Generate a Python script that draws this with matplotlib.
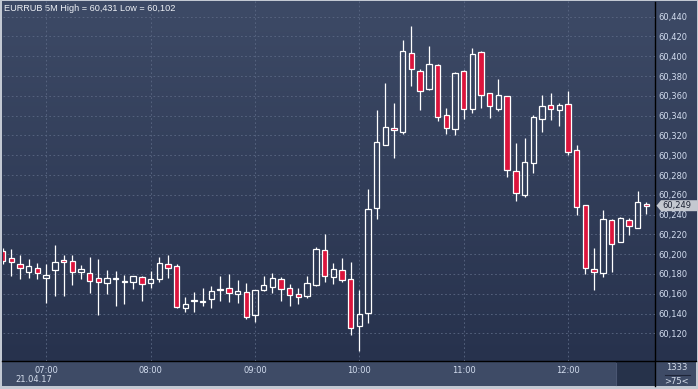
import numpy as np
import matplotlib
matplotlib.use("Agg")
import matplotlib.pyplot as plt
from matplotlib.patches import Rectangle, Polygon
import pandas as pd

plt.rcParams['font.family'] = ['DejaVu Sans']

# ---------------- data ----------------
opens = [60.203, 60.196, 60.190, 60.182, 60.186, 60.176, 60.184, 60.194, 60.193, 60.182,
         60.181, 60.176, 60.171, 60.1748, 60.172, 60.172, 60.177, 60.171, 60.175, 60.190,
         60.188, 60.146, 60.153, 60.1515, 60.155, 60.1635, 60.166, 60.160, 60.162, 60.139,
         60.164, 60.167, 60.175, 60.166, 60.160, 60.158, 60.169, 60.204, 60.177, 60.184,
         60.175, 60.127, 60.141, 60.247, 60.310, 60.327, 60.323, 60.403, 60.385, 60.367,
         60.391, 60.341, 60.326, 60.385, 60.347, 60.404, 60.363, 60.347, 60.360, 60.284,
         60.260, 60.292, 60.337, 60.351, 60.346, 60.352, 60.305, 60.250, 60.185, 60.181,
         60.235, 60.212, 60.235, 60.226, 60.251]
highs = [60.206, 60.205, 60.199, 60.195, 60.191, 60.190, 60.209, 60.199, 60.199, 60.189,
         60.197, 60.195, 60.184, 60.183, 60.179, 60.178, 60.178, 60.183, 60.197, 60.199,
         60.190, 60.157, 60.162, 60.166, 60.168, 60.178, 60.180, 60.174, 60.171, 60.164,
         60.178, 60.181, 60.177, 60.170, 60.166, 60.178, 60.207, 60.220, 60.191, 60.196,
         60.192, 60.164, 60.266, 60.346, 60.373, 60.353, 60.416, 60.431, 60.387, 60.410,
         60.392, 60.348, 60.384, 60.386, 60.408, 60.405, 60.363, 60.377, 60.360, 60.312,
         60.317, 60.341, 60.361, 60.363, 60.353, 60.365, 60.310, 60.250, 60.206, 60.245,
         60.236, 60.238, 60.237, 60.264, 60.253]
lows = [60.190, 60.178, 60.175, 60.176, 60.175, 60.151, 60.158, 60.158, 60.169, 60.175,
        60.161, 60.139, 60.160, 60.148, 60.150, 60.165, 60.153, 60.166, 60.172, 60.176,
        60.146, 60.142, 60.142, 60.1475, 60.146, 60.153, 60.152, 60.151, 60.135, 60.132,
        60.163, 60.161, 60.153, 60.148, 60.150, 60.156, 60.168, 60.172, 60.170, 60.172,
        60.118, 60.102, 60.130, 60.236, 60.310, 60.297, 60.321, 60.370, 60.346, 60.366,
        60.335, 60.321, 60.320, 60.337, 60.343, 60.348, 60.338, 60.345, 60.278, 60.254,
        60.258, 60.282, 60.323, 60.336, 60.330, 60.300, 60.240, 60.180, 60.164, 60.177,
        60.182, 60.212, 60.219, 60.226, 60.241]
closes = [60.193, 60.192, 60.186, 60.188, 60.181, 60.179, 60.192, 60.192, 60.1825, 60.185,
          60.173, 60.172, 60.176, 60.1756, 60.1725, 60.178, 60.170, 60.175, 60.191, 60.186,
          60.147, 60.150, 60.154, 60.1525, 60.163, 60.1645, 60.161, 60.163, 60.137, 60.164,
          60.169, 60.176, 60.165, 60.159, 60.157, 60.171, 60.205, 60.178, 60.185, 60.174,
          60.125, 60.140, 60.246, 60.313, 60.328, 60.325, 60.405, 60.387, 60.365, 60.392,
          60.339, 60.327, 60.383, 60.347, 60.402, 60.361, 60.350, 60.361, 60.285, 60.262,
          60.293, 60.339, 60.350, 60.347, 60.351, 60.303, 60.248, 60.186, 60.182, 60.236,
          60.210, 60.237, 60.228, 60.253, 60.249]
start_time = "2017-04-21 06:35"
price_ticks = [60.120, 60.140, 60.160, 60.180, 60.200, 60.220, 60.240, 60.260, 60.280,
               60.300, 60.320, 60.340, 60.360, 60.380, 60.400, 60.420, 60.440]
title_text = "EURRUB 5M High = 60,431 Low = 60,102"
date_label = "21.04.17"
volume_label = "1333"
spread_label = ">75<"

times = pd.date_range(start_time, periods=len(opens), freq="5min")
hour_idx = [i for i, t in enumerate(times) if t.minute == 0]
hour_lbl = [times[i].strftime("%H:%M") for i in hour_idx]

# ---------------- figure ----------------
W, H = 698, 389
fig = plt.figure(figsize=(W / 100, H / 100), dpi=100)
fig.patch.set_facecolor('#c3c9d3')

bg = fig.add_axes([0, 0, 1, 1])
bg.set_xlim(0, W)
bg.set_ylim(H, 0)
bg.axis('off')

top_c = np.array([61, 74, 102]) / 255
bot_c = np.array([39, 50, 77]) / 255
t = np.linspace(0, 1, 256)[:, None]
grad = (top_c[None, :] * (1 - t) + bot_c[None, :] * t)[:, None, :]
bg.imshow(grad, extent=(1.5, 696, 361, 1.5), aspect='auto', origin='upper', zorder=1)
bg.add_patch(Rectangle((1.5, 361), 694.5, 25, facecolor='#3e4b66', edgecolor='none', zorder=2))
bg.add_patch(Rectangle((615.5, 362), 39.5, 24, facecolor='#26324a', edgecolor='none', zorder=3))
bg.plot([615.5, 615.5], [363, 385], color='#4a5672', lw=0.8, zorder=3)
bg.plot([1.5, 696], [361, 361], color='black', lw=1.0, zorder=4)
bg.plot([655, 655], [1.5, 386], color='black', lw=1.0, zorder=4)
bg.plot([665, 690], [374.5, 374.5], color='#1e2538', lw=0.8, zorder=4)

bg.text(4, 8, title_text, fontsize=6.6, family=['Liberation Sans', 'DejaVu Sans'],
        color='#eef1f6', ha='left', va='center', zorder=5)
bg.text(15, 379, date_label, fontsize=6, color='#d6deec', ha='left', va='center', zorder=5)
bg.text(677, 367.5, volume_label, fontsize=6, color='#d6deec', ha='center', va='center', zorder=5)
bg.text(676, 381, spread_label, fontsize=6, color='#d6deec', ha='center', va='center', zorder=5)

# ---------------- main chart ----------------
x0, x1, y0, y1 = 2.7, 655, 1, 361
ax = fig.add_axes([x0 / W, 1 - y1 / H, (x1 - x0) / W, (y1 - y0) / H])
ax.set_facecolor('none')
ax.set_xlim(0, 75)
ax.set_ylim(60.0921, 60.4558)

red = '#dc143c'
bw = 0.62
for i, (o, h, l, c) in enumerate(zip(opens, highs, lows, closes)):
    lo_b, hi_b = min(o, c), max(o, c)
    ax.vlines(i, hi_b, h, color='white', lw=0.9, zorder=3)
    ax.vlines(i, l, lo_b, color='white', lw=0.9, zorder=3)
    hgt = max(hi_b - lo_b, 0.0012)
    fc = red if c < o else 'none'
    ax.add_patch(Rectangle((i - bw / 2, lo_b), bw, hgt, facecolor=fc,
                           edgecolor='white', lw=0.9, zorder=4))

ax.set_yticks(price_ticks)
ax.set_yticklabels([f"{v:.3f}".replace('.', ',') for v in price_ticks])
ax.yaxis.tick_right()
ax.set_xticks(hour_idx)
ax.set_xticklabels(hour_lbl)
ax.tick_params(axis='y', length=0, pad=2.2, labelsize=6, labelcolor='#d3ddef')
ax.tick_params(axis='x', length=0, pad=3.5, labelsize=6, labelcolor='#d3ddef')
ax.grid(True, color='#5b6884', linestyle=(0, (2, 3)), lw=0.6, zorder=1)
for s in ax.spines.values():
    s.set_visible(False)

# current price tag
fig.canvas.draw()
py = H - ax.transData.transform((0, closes[-1]))[1]
tag = Polygon([(656.5, py), (661, py - 5.5), (698, py - 5.5), (698, py + 5.5), (661, py + 5.5)],
              closed=True, facecolor='#c4c8d0', edgecolor='none', zorder=10)
bg2 = fig.add_axes([0, 0, 1, 1], facecolor='none')
bg2.set_xlim(0, W)
bg2.set_ylim(H, 0)
bg2.axis('off')
bg2.add_patch(tag)
bg2.text(662, py, f"{closes[-1]:.3f}".replace('.', ','), fontsize=6, color='#1b2133',
         ha='left', va='center', zorder=11)

fig.savefig('out.png', dpi=100)
